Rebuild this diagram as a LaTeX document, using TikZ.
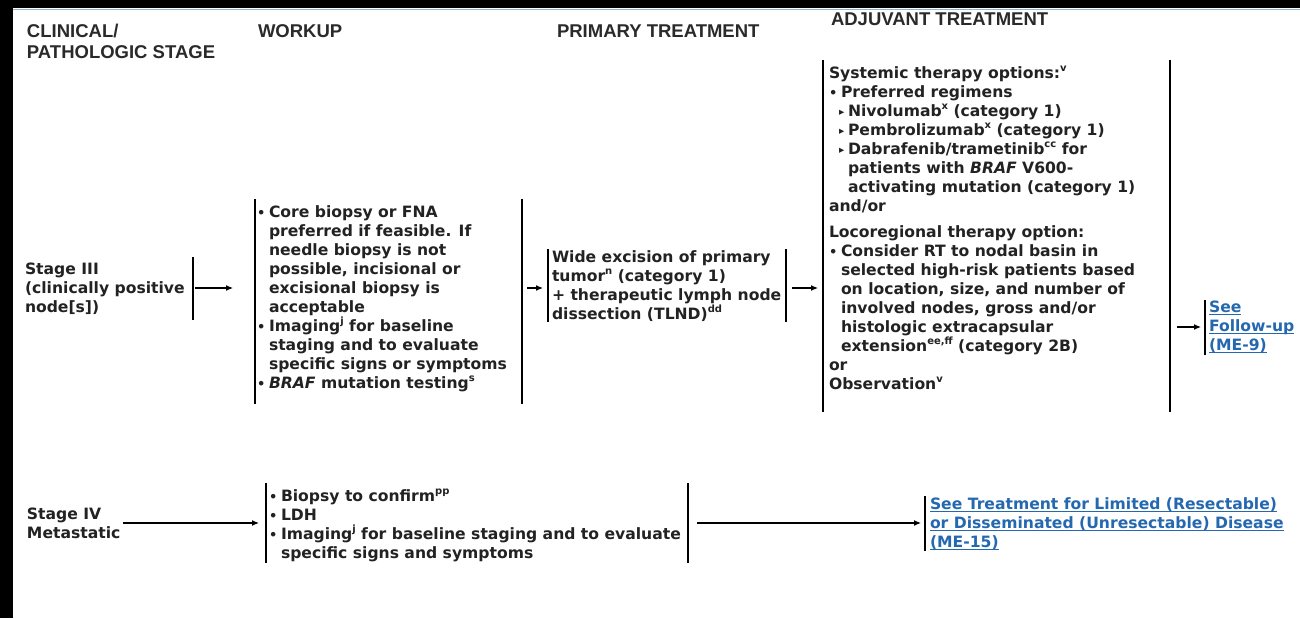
\documentclass[tikz,border=0pt]{standalone}
\usepackage{fontspec}
\setmainfont{DejaVu Sans}
\newfontfamily\headfont{Liberation Sans}
\usetikzlibrary{arrows.meta}

\definecolor{ink}{HTML}{222222}
\definecolor{headink}{HTML}{2A2A2A}
\definecolor{linkblue}{HTML}{2468B0}
\definecolor{rulecol}{HTML}{8DB4D2}

% small raised footnote marks
\newcommand{\sps}[1]{\raisebox{0.48em}{\fontsize{10}{10}\selectfont #1}}
% list markers and hanging indents
\newcommand{\bul}{\makebox[12pt][l]{\fontsize{13}{13}\selectfont •}}
\newcommand{\trib}{\hspace*{10pt}\makebox[9pt][l]{\raisebox{1pt}{\fontsize{10.5}{10.5}\selectfont ▸}}}
\newcommand{\hang}[1]{\hspace*{#1}}
% underlined link text
\newcommand{\lnk}[1]{\setbox0\hbox{#1}\rlap{\rule[-2.4pt]{\wd0}{0.9pt}}\box0}

\begin{document}
\begin{tikzpicture}[x=1pt,y=-1pt,
  body/.style={anchor=north west, inner sep=0pt, outer sep=0pt, align=left,
    text=ink, font=\bfseries\fontsize{15.6}{19}\selectfont},
  head/.style={anchor=north west, inner sep=0pt, outer sep=0pt, align=left,
    text=headink, font=\headfont\bfseries\fontsize{18.5}{21}\selectfont},
  brk/.style={inner sep=0pt, outer sep=0pt, draw=none},
  bar/.style={line width=1.4pt, black},
  arr/.style={line width=1.2pt, black, -{Latex[length=7pt,width=6pt]}},
  linktext/.style={body, text=linkblue},
]
\useasboundingbox (0,0) rectangle (1300,618);
\fill[white] (0,0) rectangle (1300,618);
\fill[black] (0,0) rectangle (1300,8.5);
\fill[black] (0,0) rectangle (12.5,618);
\draw[rulecol, line width=1.4pt] (12.5,9.4) -- (1300,9.4);

% column headings
\node[head] (hstage) at (27,24.4) {CLINICAL/\\PATHOLOGIC STAGE};
\node[head] (hwork) at (258,24.4) {WORKUP};
\node[head] (hprim) at (557,24.4) {PRIMARY TREATMENT};
\node[head] (hadj) at (831,12.4) {ADJUVANT TREATMENT};

% row guides for the connectors
\coordinate (r3) at (0,288);
\coordinate (rfu) at (0,327);
\coordinate (r4) at (0,523);

% ---- Stage III row ----
\node[body] (s3) at (25,262.8) {Stage III\\(clinically positive\\node[s])};
\node[brk, minimum width=168pt, minimum height=63pt] (s3b) at (109,288.5) {};
\draw[bar] (s3b.north east) -- (s3b.south east);

\node[body] (wu3t) at (257,205.8) {\bul Core biopsy or FNA\\
\hang{12pt}preferred if feasible. If\\
\hang{12pt}needle biopsy is not\\
\hang{12pt}possible, incisional or\\
\hang{12pt}excisional biopsy is\\
\hang{12pt}acceptable\\
\bul Imaging\sps{j} for baseline\\
\hang{12pt}staging and to evaluate\\
\hang{12pt}specific signs or symptoms\\
\bul\textit{BRAF} mutation testing\sps{s}};
\node[brk, minimum width=267pt, minimum height=205pt] (wu3b) at (388.5,301.5) {};
\draw[bar] (wu3b.north west) -- (wu3b.south west);
\draw[bar] (wu3b.north east) -- (wu3b.south east);

\node[body] (ptt) at (552,250.8) {Wide excision of primary\\
tumor\sps{n} (category 1)\\
+ therapeutic lymph node\\
dissection (TLND)\sps{dd}};
\node[brk, minimum width=238pt, minimum height=73pt] (ptb) at (667,285.5) {};
\draw[bar] (ptb.north west) -- (ptb.south west);
\draw[bar] (ptb.north east) -- (ptb.south east);

\node[body] (adt) at (829,65.8) {Systemic therapy options:\sps{v}\\
\bul Preferred regimens\\
\trib Nivolumab\sps{x} (category 1)\\
\trib Pembrolizumab\sps{x} (category 1)\\
\trib Dabrafenib/trametinib\sps{cc} for\\
\hang{19pt}patients with \textit{BRAF} V600-\\
\hang{19pt}activating mutation (category 1)\\
and/or\\[7pt]
Locoregional therapy option:\\
\bul Consider RT to nodal basin in\\
\hang{12pt}selected high-risk patients based\\
\hang{12pt}on location, size, and number of\\
\hang{12pt}involved nodes, gross and/or\\
\hang{12pt}histologic extracapsular\\
\hang{12pt}extension\sps{ee,ff} (category 2B)\\
or\\
Observation\sps{v}};
\node[brk, minimum width=347pt, minimum height=352pt] (adb) at (996.5,236) {};
\draw[bar] (adb.north west) -- (adb.south west);
\draw[bar] (adb.north east) -- (adb.south east);

\node[linktext] (fut) at (1209,301.3) {\lnk{See}\\\lnk{Follow-up}\\\lnk{(ME-9)}};
\node[brk, minimum width=93pt, minimum height=55pt] (fub) at (1251.5,327.5) {};
\draw[bar] (fub.north west) -- (fub.south west);

\draw[arr, shorten <=2pt, shorten >=22pt] (s3b.east |- r3) -- (wu3b.west |- r3);
\draw[arr, shorten <=5pt, shorten >=5pt] (wu3b.east |- r3) -- (ptb.west |- r3);
\draw[arr, shorten <=6pt, shorten >=5pt] (ptb.east |- r3) -- (adb.west |- r3);
\draw[arr, shorten <=7pt, shorten >=4pt] (adb.east |- rfu) -- (fub.west |- rfu);

% ---- Stage IV row ----
\node[body] (s4) at (27,507.8) {Stage IV\\Metastatic};

\node[body] (wu4t) at (269,488.8) {\bul Biopsy to confirm\sps{pp}\\
\bul LDH\\
\bul Imaging\sps{j} for baseline staging and to evaluate\\
\hang{12pt}specific signs and symptoms};
\node[brk, minimum width=422pt, minimum height=80pt] (wu4b) at (477,523) {};
\draw[bar] (wu4b.north west) -- (wu4b.south west);
\draw[bar] (wu4b.north east) -- (wu4b.south east);

\node[linktext] (lk4t) at (930,497.5) {\lnk{See Treatment for Limited (Resectable)}\\
\lnk{or Disseminated (Unresectable) Disease}\\
\lnk{(ME-15)}};
\node[brk, minimum width=365pt, minimum height=55pt] (lk4b) at (1107.5,523.5) {};
\draw[bar] (lk4b.north west) -- (lk4b.south west);

\draw[arr, shorten <=3pt, shorten >=7pt] (s4.east |- r4) -- (wu4b.west |- r4);
\draw[arr, shorten <=9pt, shorten >=4pt] (wu4b.east |- r4) -- (lk4b.west |- r4);
\end{tikzpicture}
\end{document}
